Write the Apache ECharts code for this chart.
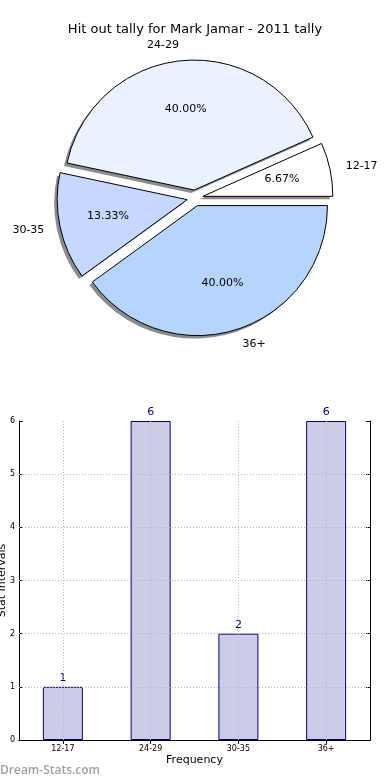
<!DOCTYPE html>
<html>
<head>
<meta charset="utf-8">
<script src="https://cdn.jsdelivr.net/npm/echarts@6/dist/echarts.min.js"></script>
<style>
html,body{margin:0;padding:0;background:#fff;}
#c{width:390px;height:780px;}
</style>
</head>
<body>
<div id="c"></div>
<script>
var titleText = 'Hit out tally for Mark Jamar - 2011 tally';
var categories = ['12-17', '24-29', '30-35', '36+'];
var counts = [1, 6, 2, 6];
var pieColors = ['#ffffff', '#eaf1ff', '#c6d8ff', '#b5d5ff'];
var yTicks = [0, 1, 2, 3, 4, 5, 6];
var watermark = 'Dream-Stats.com';

var FONT = 'DejaVu Sans';
var CX = 195, CY = 198, R = 130, OFF = 8;
var total = counts.reduce(function (a, b) { return a + b; }, 0);

// mid-angle of each slice (counter-clockwise from 3 o'clock) -> label alignment side
var cum = 0;
var rightSide = counts.map(function (v) {
  var mid = (cum + v / 2) / total * 2 * Math.PI;
  cum += v;
  return Math.cos(mid) > 0;
});

function pieData(style) {
  return categories.map(function (c, i) {
    return { name: c, value: counts[i], selected: true, itemStyle: style(i) };
  });
}

var basePie = {
  type: 'pie',
  center: [CX, CY],
  startAngle: 0,
  clockwise: false,
  selectedMode: 'multiple',
  selectedOffset: OFF,
  avoidLabelOverlap: false,
  silent: true,
  animation: false,
  emphasis: { disabled: true },
  labelLine: { show: false }
};

var chart = echarts.init(document.getElementById('c'));
chart.setOption({
  animation: false,
  textStyle: { fontFamily: FONT },
  title: [
    { text: titleText, left: 'center', top: 23, padding: 0,
      textStyle: { fontFamily: FONT, fontSize: 13, fontWeight: 'normal', color: '#000' } },
    { text: watermark, left: 0, top: 765, padding: 0,
      textStyle: { fontFamily: 'Open Sans', fontSize: 12, fontWeight: 600, color: '#a0a0a0' } }
  ],
  grid: { left: 19, right: 20, top: 421, bottom: 40, containLabel: false, outerBoundsMode: 'none' },
  xAxis: [
    { type: 'category', data: categories, position: 'bottom',
      name: 'Frequency', nameLocation: 'middle', nameGap: 15, nameMoveOverlap: false,
      nameTextStyle: { fontFamily: FONT, fontSize: 11, color: '#000' },
      axisLine: { lineStyle: { color: '#000', width: 1 } },
      axisTick: { show: true, inside: true, alignWithLabel: true, length: 4, lineStyle: { color: '#000' } },
      axisLabel: { fontFamily: FONT, fontSize: 8, color: '#000', margin: 5 },
      splitLine: { show: false } },
    { type: 'category', data: categories, position: 'top',
      axisLine: { lineStyle: { color: '#000', width: 1 } },
      axisTick: { show: true, inside: true, alignWithLabel: true, length: 4, lineStyle: { color: '#000' } },
      axisLabel: { show: false }, splitLine: { show: false } }
  ],
  yAxis: [
    { type: 'value', min: 0, max: 6, interval: 1, position: 'left',
      name: 'Stat Intervals', nameLocation: 'middle', nameGap: 11, nameMoveOverlap: false,
      nameTextStyle: { fontFamily: FONT, fontSize: 11, color: '#000' },
      axisLine: { show: true, lineStyle: { color: '#000', width: 1 } },
      axisTick: { show: true, inside: true, length: 4, lineStyle: { color: '#000' } },
      axisLabel: { fontFamily: FONT, fontSize: 8, color: '#000', margin: 4,
        formatter: function (v) { return yTicks.indexOf(v) >= 0 ? String(v) : ''; } },
      splitLine: { show: false } },
    { type: 'value', min: 0, max: 6, interval: 1, position: 'right',
      axisLine: { show: true, lineStyle: { color: '#000', width: 1 } },
      axisTick: { show: true, inside: true, length: 4, lineStyle: { color: '#000' } },
      axisLabel: { show: false }, splitLine: { show: false } }
  ],
  series: [
    // shadow
    Object.assign({}, basePie, {
      center: [CX - 3, CY + 3], radius: R, z: 1,
      label: { show: false },
      data: pieData(function () { return { color: '#8c8c8c', borderWidth: 0 }; })
    }),
    // main pie
    Object.assign({}, basePie, {
      radius: R, z: 2,
      label: { show: false },
      data: pieData(function (i) { return { color: pieColors[i], borderColor: '#000', borderWidth: 1 }; })
    }),
    // percentage labels (at 0.6 R)
    Object.assign({}, basePie, {
      radius: 2 * 0.6 * R, z: 3,
      label: { show: true, position: 'inside', fontFamily: FONT, fontSize: 11, color: '#000',
        formatter: function (p) { return (p.value / total * 100).toFixed(2) + '%'; } },
      data: pieData(function () { return { color: 'rgba(0,0,0,0)', borderWidth: 0 }; })
    }),
    // category labels (at 1.1 R)
    Object.assign({}, basePie, {
      radius: 2 * 1.1 * R, z: 3,
      label: { show: true, position: 'inside', fontFamily: FONT, fontSize: 11, color: '#000',
        formatter: '{b}' },
      labelLayout: function (p) {
        var w = p.labelRect.width;
        return { dx: rightSide[p.dataIndex] ? w / 2 : -w / 2 };
      },
      data: pieData(function () { return { color: 'rgba(0,0,0,0)', borderWidth: 0 }; })
    }),
    {
      type: 'bar', xAxisIndex: 0, yAxisIndex: 0,
      data: counts, barWidth: 40, silent: true,
      itemStyle: { color: '#ccccE6', borderColor: '#00008b', borderWidth: 1 },
      label: { show: true, position: 'top', distance: 3, fontFamily: FONT, fontSize: 11, color: '#00008b' },
      markLine: {
        silent: true, symbol: ['none', 'none'], label: { show: false },
        lineStyle: { type: [1, 2], color: '#b5b5b5', width: 1 },
        emphasis: { disabled: true },
        data: categories.map(function (c) { return { xAxis: c }; })
          .concat(yTicks.slice(1, -1).map(function (v) { return { yAxis: v }; }))
      }
    }
  ]
});
</script>
</body>
</html>
